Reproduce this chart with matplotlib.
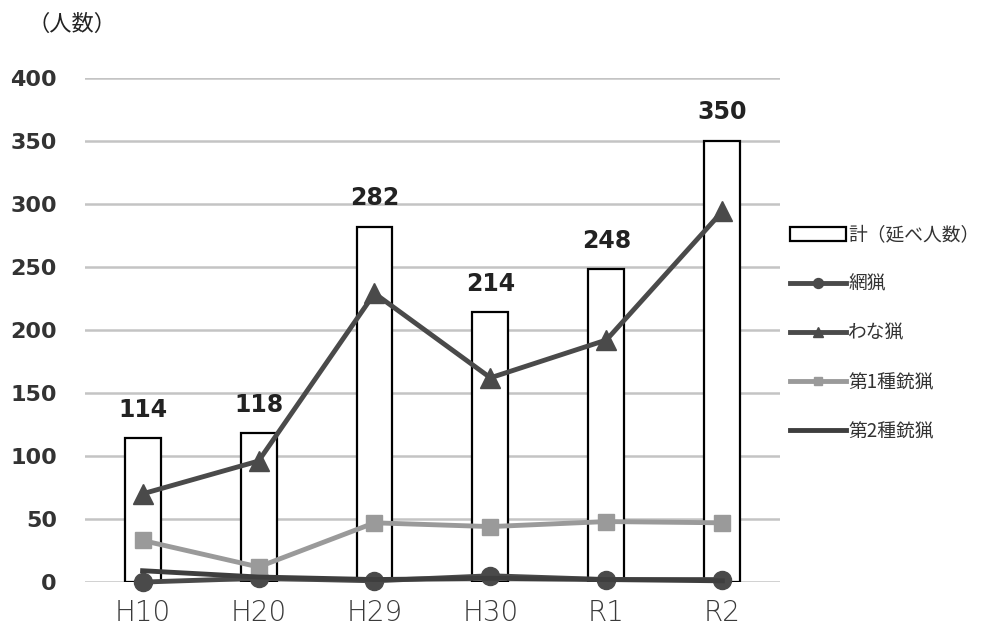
import matplotlib.pyplot as plt
import numpy as np

plt.rcParams['font.family'] = ['DejaVu Sans', 'Noto Sans CJK JP']

years = ['H10', 'H20', 'H29', 'H30', 'R1', 'R2']
total = [114, 118, 282, 214, 248, 350]
net = [0, 3, 1, 5, 2, 2]
trap = [70, 96, 229, 162, 192, 294]
gun1 = [33, 12, 47, 44, 48, 47]
gun2 = [9, 4, 2, 3, 2, 1]

x = np.arange(len(years))

fig = plt.figure(figsize=(9.84, 6.32), dpi=100)
ax = fig.add_axes([0.086, 0.079, 0.707, 0.798])

ax.bar(x, total, width=0.31, facecolor='white', edgecolor='black', linewidth=1.6,
       label='計（延べ人数）', zorder=2)
for xi, v in zip(x, total):
    ax.text(xi, v + 13, str(v), ha='center', va='bottom', fontsize=17,
            fontweight='bold', color='#222222')

ax.plot(x, net, '-o', color='#4a4a4a', lw=3.5, ms=13, label='網猟', zorder=3, clip_on=False)
ax.plot(x, trap, '-^', color='#4a4a4a', lw=3.5, ms=14, label='わな猟', zorder=3, clip_on=False)
ax.plot(x, gun1, '-s', color='#9a9a9a', lw=3.5, ms=11, label='第1種銃猟', zorder=3, clip_on=False)
ax.plot(x, gun2, '-', color='#3e3e3e', lw=3.5, label='第2種銃猟', zorder=4, clip_on=False)

ax.set_xlim(-0.5, 5.5)
ax.set_ylim(0, 400)
ax.set_yticks(range(0, 401, 50))
ax.set_xticks(x)
ax.set_xticklabels(years, fontsize=20, color='#3a3a3a', fontweight='light')
for lab in ax.get_yticklabels():
    lab.set_fontsize(16)
    lab.set_fontweight('bold')
    lab.set_color('#333333')
ax.tick_params(axis='y', length=0, pad=20)
ax.tick_params(axis='x', length=0, pad=12)
ax.grid(axis='y', color='#c4c4c4', lw=1.8, zorder=0)
for s in ax.spines.values():
    s.set_visible(False)

fig.text(0.028, 0.962, '（人数）', fontsize=16, family=['Noto Sans CJK JP'],
         color='#222222', va='center')

handles, labels = ax.get_legend_handles_labels()
order = [4, 0, 1, 2, 3]
leg = ax.legend([handles[i] for i in order], [labels[i] for i in order],
                loc='upper left', bbox_to_anchor=(0.995, 0.735), frameon=False,
                prop={'family': ['Noto Sans CJK JP'], 'size': 13.5},
                handlelength=3.0, handletextpad=0.1, labelspacing=1.5,
                markerscale=0.55, borderaxespad=0.3)
for t in leg.get_texts():
    t.set_color('#333333')

fig.savefig('out.png', dpi=100)
